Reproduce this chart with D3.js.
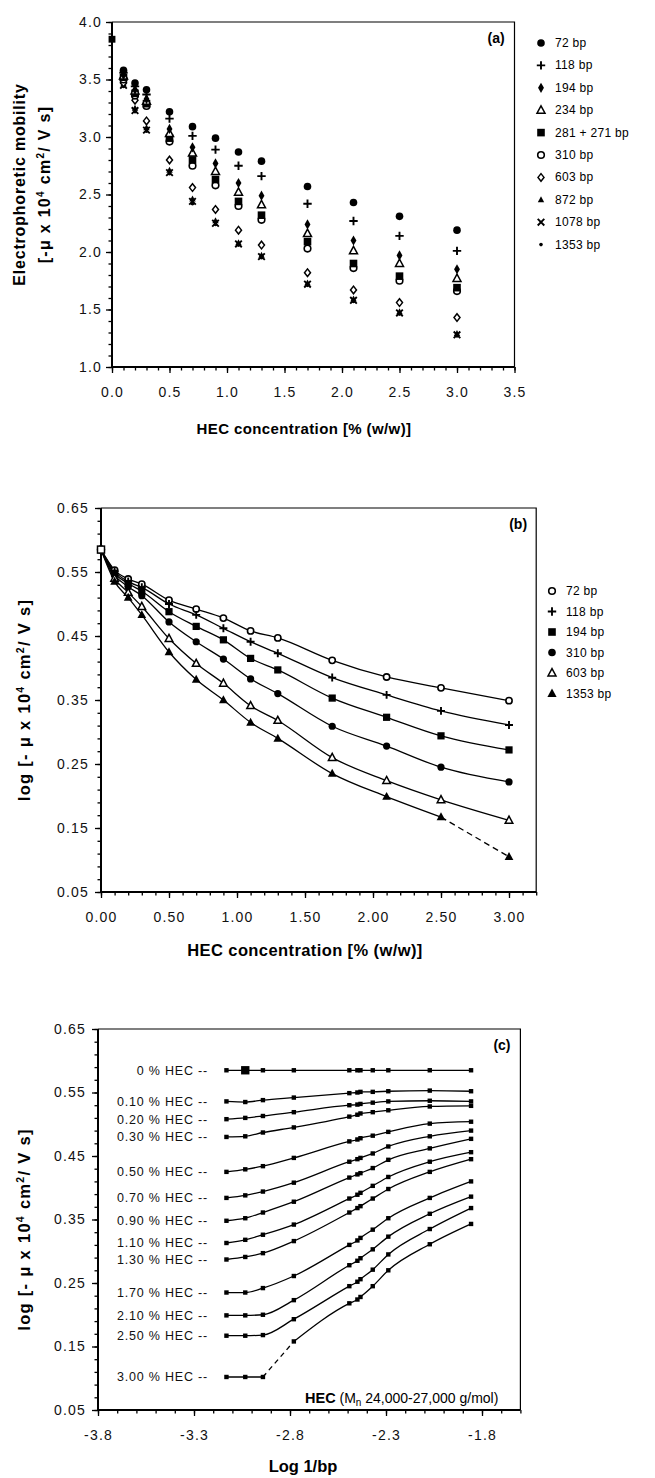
<!DOCTYPE html>
<html><head><meta charset="utf-8">
<script src="https://cdnjs.cloudflare.com/ajax/libs/d3/7.8.5/d3.min.js"></script>
<style>
body{margin:0;background:#fff}
svg{display:block;font-family:"Liberation Sans",Arial,Helvetica,sans-serif}
</style></head><body><svg id="fig" width="655" height="1478"></svg>
<script>
// ---------- Panel (a) data ----------
const concA = [0,0.1,0.2,0.3,0.5,0.7,0.9,1.1,1.3,1.7,2.1,2.5,3.0];
const labelsA = ["72 bp","118 bp","194 bp","234 bp","281 + 271 bp","310 bp","603 bp","872 bp","1078 bp","1353 bp"];
const markersA = ["dot","plus","dotS","triO","square","circO","diaO","triS","x","pt"];
const mob72   = [3.85,3.58,3.47,3.41,3.22,3.09,2.99,2.87,2.79,2.57,2.43,2.31,2.19];
const mob118  = [3.85,3.56,3.44,3.37,3.16,3.01,2.89,2.75,2.66,2.42,2.27,2.14,2.01];
const mob194  = [3.85,3.54,3.41,3.33,3.07,2.91,2.77,2.60,2.49,2.24,2.10,1.97,1.85];
const mob234  = [3.85,3.53,3.40,3.31,3.03,2.86,2.70,2.52,2.41,2.16,2.01,1.90,1.77];
const mob281  = [3.85,3.52,3.38,3.29,2.99,2.80,2.63,2.44,2.32,2.09,1.90,1.79,1.69];
const mob310  = [3.85,3.50,3.36,3.27,2.96,2.75,2.58,2.40,2.28,2.03,1.86,1.75,1.66];
const mob603  = [3.85,3.47,3.32,3.14,2.80,2.56,2.37,2.19,2.06,1.82,1.67,1.56,1.43];
const mob872  = [3.85,3.46,3.25,3.08,2.71,2.46,2.27,2.08,1.97,1.73,1.59,1.48,1.29];
const mob1078 = [3.85,3.45,3.23,3.06,2.69,2.44,2.25,2.07,1.96,1.72,1.58,1.47,1.28];
const mob1353 = [3.85,3.44,3.22,3.05,2.68,2.42,2.24,2.06,1.95,1.71,1.57,1.46,1.27];
const seriesA = [mob72,mob118,mob194,mob234,mob281,mob310,mob603,mob872,mob1078,mob1353];
const ticksAx = [0,0.5,1.0,1.5,2.0,2.5,3.0,3.5];
const ticksAy = [1.0,1.5,2.0,2.5,3.0,3.5,4.0];

// ---------- Panel (b) data ----------
const concB = [0,0.1,0.2,0.3,0.5,0.7,0.9,1.1,1.3,1.7,2.1,2.5,3.0];
const labelsB = ["72 bp","118 bp","194 bp","310 bp","603 bp","1353 bp"];
const markersB = ["circO","plus","square","dot","triO","triF"];
const logB72   = [0.585,0.553,0.539,0.531,0.506,0.492,0.478,0.458,0.447,0.412,0.386,0.369,0.349];
const logB118  = [0.585,0.551,0.535,0.526,0.500,0.483,0.462,0.441,0.423,0.385,0.358,0.333,0.311];
const logB194  = [0.585,0.548,0.532,0.520,0.488,0.465,0.444,0.415,0.397,0.353,0.323,0.294,0.272];
const logB310  = [0.585,0.545,0.527,0.513,0.472,0.441,0.414,0.383,0.360,0.309,0.278,0.245,0.222];
const logB603  = [0.585,0.540,0.518,0.496,0.446,0.407,0.376,0.341,0.318,0.260,0.224,0.194,0.162];
const logB1353 = [0.585,0.535,0.510,0.483,0.425,0.382,0.350,0.315,0.290,0.235,0.199,0.167,0.105];
const seriesB = [logB72,logB118,logB194,logB310,logB603,logB1353];
const ticksBx = [0,0.5,1.0,1.5,2.0,2.5,3.0];
const ticksBy = [0.05,0.15,0.25,0.35,0.45,0.55,0.65];

// ---------- Panel (c) data ----------
const bpC = [1353,1078,872,603,310,281,271,234,194,118,72];
const logInvBp = [-3.131,-3.033,-2.941,-2.780,-2.491,-2.449,-2.433,-2.369,-2.288,-2.072,-1.857];
const rowLabelsC = ["0 % HEC --","0.10 % HEC --","0.20 % HEC --","0.30 % HEC --","0.50 % HEC --","0.70 % HEC --","0.90 % HEC --","1.10 % HEC --","1.30 % HEC --","1.70 % HEC --","2.10 % HEC --","2.50 % HEC --","3.00 % HEC --"];
const hec000 = [0.585,0.585,0.585,0.585,0.585,0.585,0.585,0.585,0.585,0.585,0.585];
const hec010 = [0.536,0.535,0.538,0.542,0.549,0.550,0.551,0.551,0.552,0.553,0.552];
const hec020 = [0.508,0.510,0.513,0.519,0.530,0.531,0.532,0.534,0.536,0.537,0.536];
const hec030 = [0.480,0.481,0.487,0.495,0.512,0.515,0.517,0.519,0.522,0.528,0.529];
const hec050 = [0.425,0.429,0.434,0.447,0.473,0.476,0.478,0.482,0.488,0.501,0.504];
const hec070 = [0.384,0.388,0.394,0.408,0.441,0.445,0.447,0.454,0.465,0.481,0.490];
const hec090 = [0.348,0.352,0.361,0.378,0.416,0.421,0.423,0.431,0.444,0.462,0.477];
const hec110 = [0.313,0.318,0.326,0.342,0.383,0.389,0.392,0.403,0.417,0.441,0.456];
const hec130 = [0.287,0.291,0.297,0.316,0.361,0.368,0.371,0.383,0.398,0.425,0.445];
const hec170 = [0.235,0.235,0.242,0.261,0.310,0.317,0.321,0.334,0.352,0.384,0.410];
const hec210 = [0.199,0.199,0.200,0.223,0.278,0.285,0.289,0.303,0.323,0.359,0.386];
const hec250 = [0.167,0.167,0.168,0.193,0.245,0.252,0.256,0.271,0.295,0.335,0.368];
const hec300 = [0.102,0.102,0.102,0.158,0.218,0.224,0.228,0.245,0.270,0.311,0.343];
const rowsC = [hec000,hec010,hec020,hec030,hec050,hec070,hec090,hec110,hec130,hec170,hec210,hec250,hec300];
const ticksCx = [-3.8,-3.3,-2.8,-2.3,-1.8];
const ticksCy = [0.05,0.15,0.25,0.35,0.45,0.55,0.65];

// ---------- drawing ----------
const svg = d3.select("#fig");
const TICKFONT = 14;

function marker(g, type, x, y, s) {
  s = s || 1;
  const k = g.append("g").attr("transform", `translate(${x},${y})`);
  switch (type) {
    case "dot": k.append("circle").attr("r", 3.8*s).attr("fill","#000"); break;
    case "dotS": k.append("path").attr("d", d3.symbol(d3.symbolDiamond, 30*s*s)()).attr("fill","#000"); break;
    case "pt": k.append("circle").attr("r", 1.8*s).attr("fill","#000"); break;
    case "circO": k.append("circle").attr("r", 3.3*s).attr("fill","#fff").attr("stroke","#000").attr("stroke-width",1.6); break;
    case "plus": k.append("path").attr("d", `M${-4.2*s},0H${4.2*s}M0,${-4.2*s}V${4.2*s}`).attr("stroke","#000").attr("stroke-width",1.9); break;
    case "x": k.append("path").attr("d", `M${-3.3*s},${-3.3*s}L${3.3*s},${3.3*s}M${-3.3*s},${3.3*s}L${3.3*s},${-3.3*s}`).attr("stroke","#000").attr("stroke-width",1.9); break;
    case "square": k.append("rect").attr("x",-3.8*s).attr("y",-3.8*s).attr("width",7.6*s).attr("height",7.6*s).attr("fill","#000"); break;
    case "sq": k.append("rect").attr("x",-2.2*s).attr("y",-2.2*s).attr("width",4.4*s).attr("height",4.4*s).attr("fill","#000"); break;
    case "triO": k.append("path").attr("d", `M0,${-4.4*s}L${4*s},${3*s}L${-4*s},${3*s}Z`).attr("fill","#fff").attr("stroke","#000").attr("stroke-width",1.5); break;
    case "triF": k.append("path").attr("d", `M0,${-5*s}L${4.6*s},${3.4*s}L${-4.6*s},${3.4*s}Z`).attr("fill","#000"); break;
    case "triS": k.append("path").attr("d", `M0,${-3.6*s}L${3.2*s},${2.4*s}L${-3.2*s},${2.4*s}Z`).attr("fill","#000"); break;
    case "diaO": k.append("path").attr("d", `M0,${-3.8*s}L${3*s},0L0,${3.8*s}L${-3*s},0Z`).attr("fill","#fff").attr("stroke","#000").attr("stroke-width",1.5); break;
  }
}

function range(a, b, step) { const out=[]; for (let v=a; v<=b+1e-9; v+=step) out.push(+v.toFixed(4)); return out; }

function frame(L, T, R, B, x, y, opt) {
  const g = svg.append("g");
  g.append("g").attr("transform",`translate(${L},0)`)
    .call(d3.axisLeft(y).tickValues(opt.yMinor).tickSize(3.5).tickFormat(""))
    .call(s=>s.select(".domain").remove());
  g.append("g").attr("transform",`translate(0,${B})`)
    .call(d3.axisBottom(x).tickValues(opt.xMinor).tickSize(3.5).tickFormat(""))
    .call(s=>s.select(".domain").remove());
  const ya = g.append("g").attr("transform",`translate(${L},0)`)
    .call(d3.axisLeft(y).tickValues(opt.yTicks).tickSize(6).tickPadding(opt.yPad).tickFormat(opt.yFmt));
  ya.select(".domain").remove();
  const xa = g.append("g").attr("transform",`translate(0,${B})`)
    .call(d3.axisBottom(x).tickValues(opt.xTicks).tickSize(6).tickPadding(opt.xPad).tickFormat(opt.xFmt));
  xa.select(".domain").remove();
  g.selectAll(".tick line").attr("stroke","#000").attr("stroke-width",1.3);
  g.selectAll(".tick text").attr("font-size",TICKFONT).attr("fill","#111")
    .attr("font-family",'"Liberation Sans",Arial,sans-serif').attr("letter-spacing","1.2px");
  g.append("path").attr("d",`M${L},${T}H${R}V${B}`).attr("fill","none").attr("stroke","#000").attr("stroke-width",1.2);
  g.append("path").attr("d",`M${L},${T}V${B}H${R}`).attr("fill","none").attr("stroke","#000").attr("stroke-width",2);
  return g;
}

function unitLabel(el, prefix, supSize) {
  el.append("tspan").text(prefix + "\u03bc x 10");
  el.append("tspan").attr("dy",-6).attr("font-size",supSize).text("4");
  el.append("tspan").attr("dy",6).text(" cm");
  el.append("tspan").attr("dy",-6).attr("font-size",supSize).text("2");
  el.append("tspan").attr("dy",6).text("/ V s]");
}

// ===== Panel (a) =====
{
  const L=112, T=22, B=367;
  const x = d3.scaleLinear().domain([0,3.5]).range([L, L+3.5*115]);
  const y = d3.scaleLinear().domain([1,4]).range([B, T]);
  const R = x(3.5);
  frame(L,T,R,B,x,y,{yTicks:ticksAy,yMinor:range(1,4,0.1),xTicks:ticksAx,xMinor:range(0,3.5,0.1),
    yPad:4,xPad:14,yFmt:d=>d.toFixed(1),xFmt:d=>d.toFixed(1)});
  const pts = svg.append("g");
  for (let i = seriesA.length-1; i >= 0; i--) {
    seriesA[i].forEach((v,j)=>{ if (j>0 || i===4) marker(pts, j===0 ? "square" : markersA[i], x(concA[j]), y(v), j===0?0.9:1); });
  }
  svg.append("text").attr("x",R-27).attr("y",T+21).attr("font-size",14).attr("font-weight","bold").text("(a)");
  const lg = svg.append("g");
  labelsA.forEach((t,i)=>{
    const ly = 43 + i*22.4;
    marker(lg, markersA[i], 541, ly, 1);
    lg.append("text").attr("x",555).attr("y",ly+4).attr("font-size",12).attr("letter-spacing","0.3px").text(t);
  });
  svg.append("text").attr("x",304).attr("y",434).attr("text-anchor","middle").attr("font-size",15).attr("font-weight","bold")
    .attr("letter-spacing","0.4px").text("HEC concentration [% (w/w)]");
  svg.append("text").attr("transform",`translate(25,${(T+B)/2-10}) rotate(-90)`).attr("text-anchor","middle")
    .attr("font-size",16).attr("font-weight","bold").attr("letter-spacing","0.8px").text("Electrophoretic mobility");
  const yt2 = svg.append("text").attr("transform",`translate(50,${(T+B)/2-10}) rotate(-90)`).attr("text-anchor","middle")
    .attr("font-size",16).attr("font-weight","bold").attr("letter-spacing","1.3px");
  unitLabel(yt2, "[-", 10);
}

// ===== Panel (b) =====
{
  const L=101, T=508, B=892;
  const x = d3.scaleLinear().domain([0,3.2]).range([L, L+3.2*136]);
  const y = d3.scaleLinear().domain([0.05,0.65]).range([B, T]);
  const R = x(3.2);
  frame(L,T,R,B,x,y,{yTicks:ticksBy,yMinor:range(0.05,0.65,0.02),xTicks:ticksBx,xMinor:range(0,3.2,0.1),
    yPad:6,xPad:14,yFmt:d=>d.toFixed(2),xFmt:d=>d.toFixed(2)});
  const line = d3.line().x(d=>x(d[0])).y(d=>y(d[1])).curve(d3.curveMonotoneX);
  const lg = svg.append("g");
  seriesB.forEach((s,i)=>{
    const pts = s.map((v,j)=>[concB[j],v]);
    const solid = (i===5) ? pts.slice(0,12) : pts;
    lg.append("path").attr("d",line(solid)).attr("fill","none").attr("stroke","#000").attr("stroke-width",1.3);
    if (i===5) lg.append("path").attr("d",line(pts.slice(11))).attr("fill","none").attr("stroke","#000")
      .attr("stroke-width",1.3).attr("stroke-dasharray","6,4");
  });
  seriesB.forEach((s,i)=>{
    s.forEach((v,j)=>{ if (j>0) marker(lg, markersB[i], x(concB[j]), y(v), 0.95); });
  });
  marker(lg,"circO",x(0),y(0.585),1.05);
  lg.append("rect").attr("x",x(0)-3.5).attr("y",y(0.585)-3.5).attr("width",7).attr("height",7).attr("fill","#fff").attr("stroke","#000").attr("stroke-width",1.5);
  svg.append("text").attr("x",R-27).attr("y",T+21).attr("font-size",14).attr("font-weight","bold").text("(b)");
  const leg = svg.append("g");
  labelsB.forEach((t,i)=>{
    const ly = 591 + i*20.5;
    marker(leg, markersB[i], 552, ly, 1);
    leg.append("text").attr("x",566).attr("y",ly+4).attr("font-size",12).attr("letter-spacing","0.3px").text(t);
  });
  svg.append("text").attr("x",305).attr("y",956).attr("text-anchor","middle").attr("font-size",16.5).attr("font-weight","bold")
    .attr("letter-spacing","0.4px").text("HEC concentration [% (w/w)]");
  const yt = svg.append("text").attr("transform",`translate(30,${(T+B)/2}) rotate(-90)`).attr("text-anchor","middle")
    .attr("font-size",16.5).attr("font-weight","bold").attr("letter-spacing","1.3px");
  unitLabel(yt, "log [- ", 10.5);
}

// ===== Panel (c) =====
{
  const L=98, T=1029, B=1410;
  const x = d3.scaleLinear().domain([-3.8,-1.6]).range([L, L+2.2*192]);
  const y = d3.scaleLinear().domain([0.05,0.65]).range([B, T]);
  const R = x(-1.6);
  frame(L,T,R,B,x,y,{yTicks:ticksCy,yMinor:range(0.05,0.65,0.02),xTicks:ticksCx,xMinor:range(-3.8,-1.6,0.1),
    yPad:6,xPad:14,yFmt:d=>d.toFixed(2),xFmt:d=>d.toFixed(1)});
  const line = d3.line().x(d=>x(d[0])).y(d=>y(d[1])).curve(d3.curveMonotoneX);
  const g = svg.append("g");
  rowsC.forEach((row,i)=>{
    const pts = row.map((v,j)=>[logInvBp[j],v]);
    if (i===12) {
      g.append("path").attr("d",line(pts.slice(0,3))).attr("fill","none").attr("stroke","#000").attr("stroke-width",1.3);
      g.append("path").attr("d",line(pts.slice(2,4))).attr("fill","none").attr("stroke","#000").attr("stroke-width",1.3).attr("stroke-dasharray","5,4");
      g.append("path").attr("d",line(pts.slice(3))).attr("fill","none").attr("stroke","#000").attr("stroke-width",1.3);
    } else {
      g.append("path").attr("d",line(pts)).attr("fill","none").attr("stroke","#000").attr("stroke-width",1.3);
    }
    pts.forEach((p,j)=>marker(g, "sq", x(p[0]), y(p[1]), (i===0 && j===1) ? 1.9 : 1));
    svg.append("text").attr("x",208).attr("y",y(row[0])+4.5).attr("text-anchor","end").attr("font-size",12.5)
      .attr("letter-spacing","0.8px").attr("fill","#111").text(rowLabelsC[i]);
  });
  svg.append("text").attr("x",R-27).attr("y",T+21).attr("font-size",14).attr("font-weight","bold").text("(c)");
  const ann = svg.append("text").attr("x",305).attr("y",1403).attr("font-size",14);
  ann.append("tspan").attr("font-weight","bold").attr("font-size",14.5).text("HEC");
  ann.append("tspan").text("  (M");
  ann.append("tspan").attr("dy",3).attr("font-size",10).text("n");
  ann.append("tspan").attr("dy",-3).text(" 24,000-27,000  g/mol)");
  svg.append("text").attr("x",303).attr("y",1472).attr("text-anchor","middle").attr("font-size",16.5).attr("font-weight","bold").text("Log 1/bp");
  const yt = svg.append("text").attr("transform",`translate(30,${(T+B)/2+10}) rotate(-90)`).attr("text-anchor","middle")
    .attr("font-size",16.5).attr("font-weight","bold").attr("letter-spacing","1.3px");
  unitLabel(yt, "log [- ", 10.5);
}
</script></body></html>
